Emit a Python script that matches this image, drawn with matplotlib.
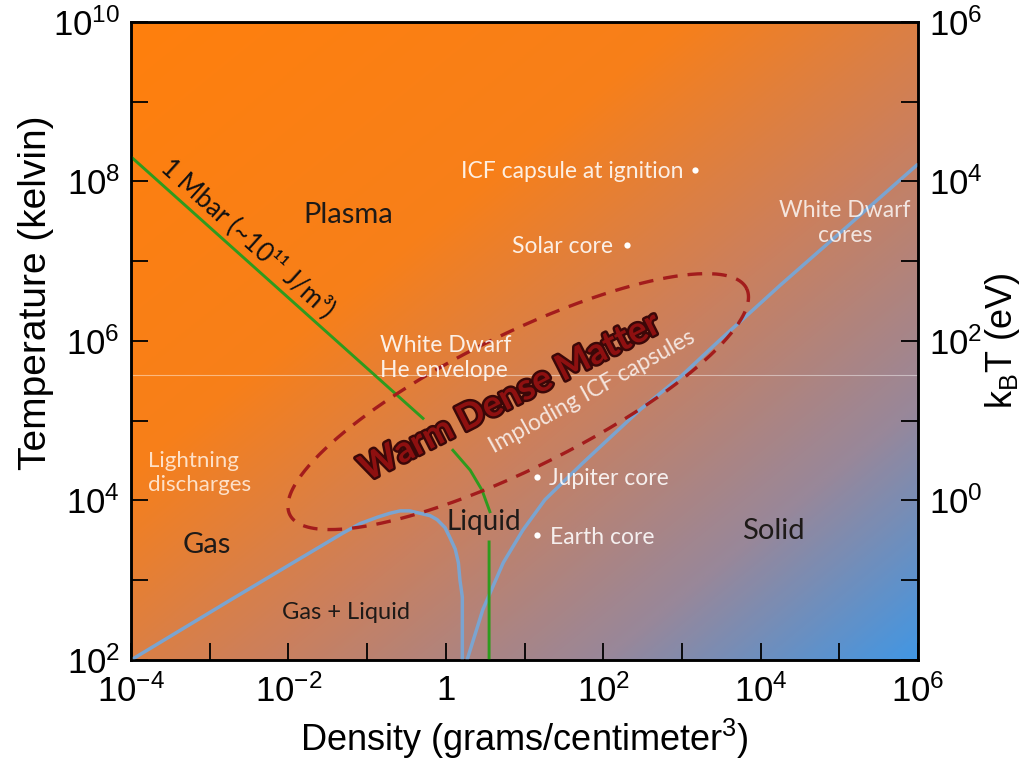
import numpy as np
import matplotlib
matplotlib.use("Agg")
import matplotlib.pyplot as plt
from matplotlib.colors import LinearSegmentedColormap
import matplotlib.patheffects as pe

plt.rcParams['font.family'] = ['Liberation Sans', 'DejaVu Sans']
plt.rcParams['mathtext.fontset'] = 'custom'
plt.rcParams['mathtext.rm'] = 'Liberation Sans'
plt.rcParams['mathtext.it'] = 'Liberation Sans:italic'
plt.rcParams['mathtext.bf'] = 'Liberation Sans:bold'

# ---------------- data (log10 density [g/cm^3], log10 temperature [K]) -------------
binodal_logrho = [-4.00, -2.74, -1.89, -1.31, -1.09, -0.87, -0.71, -0.58, -0.46, -0.33,
                  -0.20, -0.11, -0.01, 0.05, 0.12, 0.16, 0.18, 0.21, 0.21]
binodal_logT = [2.00, 2.75, 3.25, 3.59, 3.71, 3.79, 3.84, 3.87, 3.87, 3.84,
                3.81, 3.76, 3.66, 3.54, 3.39, 3.22, 3.00, 2.79, 2.00]

melt_logrho = [0.27, 0.47, 0.73, 0.98, 1.26, 1.74, 2.47, 2.98, 3.48, 4.25, 5.14, 5.99]
melt_logT = [2.00, 2.63, 3.22, 3.63, 4.01, 4.47, 5.14, 5.55, 6.01, 6.70, 7.47, 8.21]

isobar_logrho = [-4.00, -0.29, np.nan, 0.09, 0.31, 0.46, 0.56, np.nan, 0.55, 0.55]
isobar_logT = [8.31, 5.03, np.nan, 4.63, 4.38, 4.13, 3.86, np.nan, 3.48, 2.00]

# Warm dense matter region (ellipse in log-log space)
wdm_center = (0.92, 5.24)
wdm_semi_major = 3.23
wdm_semi_minor = 0.84
wdm_angle_deg = 26.0

point_names = ["ICF capsule at ignition", "Solar core", "Jupiter core", "Earth core"]
point_logrho = [3.17, 2.30, 1.16, 1.16]
point_logT = [8.14, 7.20, 4.30, 3.57]

x_ticks_log = list(range(-4, 7))
y_ticks_log = list(range(2, 11))
ev_ticks_log = list(range(-2, 7))

# ---------------- figure ----------------
fig = plt.figure(figsize=(10.30, 7.61), dpi=100)
pos = [131/1030, 1 - 660/761, (918-131)/1030, (660-22)/761]

# gradient background
bg = fig.add_axes(pos, zorder=0)
cmap = LinearSegmentedColormap.from_list(
    "bg", [(0.0, (1.00, 0.50, 0.05)), (0.35, (0.97, 0.50, 0.10)),
           (0.58, (0.80, 0.50, 0.36)), (0.80, (0.60, 0.53, 0.60)),
           (1.0, (0.26, 0.59, 0.89))])
u = np.linspace(0, 1, 400)
v = np.linspace(0, 1, 400)
U, V = np.meshgrid(u, v)
T = (U + (1 - V)) / 2
bg.imshow(T, cmap=cmap, extent=[0, 1, 0, 1], origin='lower', aspect='auto',
          interpolation='bilinear', vmin=0, vmax=1)
bg.set_axis_off()

ax = fig.add_axes(pos, zorder=1)
ax.set_facecolor('none')
ax.set_xscale('log')
ax.set_yscale('log')
ax.set_xlim(1e-4, 1e6)
ax.set_ylim(1e2, 1e10)

lr = lambda a: 10.0 ** np.asarray(a, dtype=float)

# faint artifact line
ax.axhline(10 ** 5.574, color='white', lw=0.8, alpha=0.45, zorder=2)

# curves
blue = '#7BA4D0'
ax.plot(lr(binodal_logrho), lr(binodal_logT), color=blue, lw=2.5, zorder=3,
        solid_capstyle='round')
ax.plot(lr(melt_logrho), lr(melt_logT), color=blue, lw=2.5, zorder=3,
        solid_capstyle='round')
ax.plot(lr(isobar_logrho), lr(isobar_logT), color='#2E9B1E', lw=2.1, zorder=4)

# WDM ellipse
t = np.linspace(0, 2 * np.pi, 400)
th = np.deg2rad(wdm_angle_deg)
ex = wdm_center[0] + wdm_semi_major * np.cos(t) * np.cos(th) - wdm_semi_minor * np.sin(t) * np.sin(th)
ey = wdm_center[1] + wdm_semi_major * np.cos(t) * np.sin(th) + wdm_semi_minor * np.sin(t) * np.cos(th)
ax.plot(lr(ex), lr(ey), color='#A31C1C', lw=2.4, dashes=[4.4, 3.0], zorder=4)

# points
ax.plot(lr(point_logrho), lr(point_logT), 'o', color='white', ms=4.5, zorder=5, mec='none')

# ---------------- annotations ----------------
afont = ['Lato', 'DejaVu Sans']
dark = '#1E1A18'
def P(lx, ly):
    return (10 ** lx, 10 ** ly)

ax.text(*P(-1.243, 7.58), "Plasma", fontsize=21, color=dark, family=afont, ha='center', va='center', zorder=6)
ax.text(*P(-3.034, 3.44), "Gas", fontsize=21, color=dark, family=afont, ha='center', va='center', zorder=6)
ax.text(*P(0.485, 3.73), "Liquid", fontsize=20, color=dark, family=afont, ha='center', va='center', zorder=6)
ax.text(*P(4.158, 3.62), "Solid", fontsize=21, color=dark, family=afont, ha='center', va='center', zorder=6)
ax.text(*P(-1.268, 2.60), "Gas + Liquid", fontsize=17, color=dark, family=afont, ha='center', va='center', zorder=6)
ax.text(*P(-2.513, 7.29), "1 Mbar (~10¹¹ J/m³)", fontsize=18.5, color='#111111', family=afont,
        ha='center', va='center', rotation=-42, rotation_mode='anchor', zorder=6)

wcol = (1, 1, 1, 0.88)
ax.text(*P(3.014, 8.13), point_names[0], fontsize=16.5, color=wcol, family=afont, ha='right', va='center', zorder=6)
ax.text(*P(2.125, 7.18), point_names[1], fontsize=16.5, color=wcol, family=afont, ha='right', va='center', zorder=6)
ax.text(*P(1.311, 4.28), point_names[2], fontsize=16.5, color=wcol, family=afont, ha='left', va='center', zorder=6)
ax.text(*P(1.324, 3.54), point_names[3], fontsize=16.5, color=wcol, family=afont, ha='left', va='center', zorder=6)
ax.text(*P(5.072, 7.48), "White Dwarf\ncores", fontsize=16.5, color=(1, 1, 1, 0.8), family=afont,
        ha='center', va='center', linespacing=1.25, zorder=6)
ax.text(*P(-0.836, 5.79), "White Dwarf\nHe envelope", fontsize=16.5, color=wcol, family=afont,
        ha='left', va='center', linespacing=1.25, zorder=6)
ax.text(*P(-3.784, 4.345), "Lightning\ndischarges", fontsize=16, color=(1.0, 0.90, 0.82, 0.95), family=afont,
        ha='left', va='center', linespacing=1.25, zorder=6)
ax.text(*P(1.858, 5.36), "Imploding ICF capsules", fontsize=16.5, color=(1, 1, 1, 0.8), family=afont,
        ha='center', va='center', rotation=29, rotation_mode='anchor', zorder=6)
ax.text(*P(0.816, 5.30), "Warm Dense Matter", fontsize=26, fontweight='bold', color='#8E1010', family=afont,
        ha='center', va='center', rotation=27, rotation_mode='anchor', zorder=6,
        path_effects=[pe.withStroke(linewidth=3.5, foreground='#3A0808')])

# ---------------- axes styling ----------------
def fmt_x(e):
    if e % 2:
        return ""
    if e == 0:
        return "1"
    return r"$\mathregular{10^{%d}}$" % e

def fmt_y(e):
    if e % 2:
        return ""
    return r"$\mathregular{10^{%d}}$" % e

ax.set_xticks(lr(x_ticks_log))
ax.set_xticklabels([fmt_x(e) for e in x_ticks_log])
ax.set_yticks(lr(y_ticks_log))
ax.set_yticklabels([fmt_y(e) for e in y_ticks_log])
ax.minorticks_off()
ax.tick_params(which='major', direction='in', length=12, width=1.3, labelsize=25, pad=8,
               top=False, right=False)
ax.tick_params(axis='x', pad=10)
for s in ax.spines.values():
    s.set_linewidth(1.8)

ax.set_xlabel(r"Density (grams/centimeter$\mathregular{^3}$)", fontsize=26, labelpad=6)
ax.set_ylabel("Temperature (kelvin)", fontsize=28)
ax.yaxis.set_label_coords(-0.098, 0.575)

ax2 = ax.twinx()
ax2.set_yscale('log')
ax2.set_ylim(1e-2, 1e6)
ax2.set_yticks(lr(ev_ticks_log))
ax2.set_yticklabels([fmt_y(e) if e > -2 else "" for e in ev_ticks_log])
ax2.minorticks_off()
ax2.tick_params(which='major', direction='in', length=12, width=1.3, labelsize=25, pad=8)
ax2.set_ylabel(r"$\mathregular{k_BT}$ (eV)", fontsize=26)
ax2.yaxis.set_label_coords(1.083, 0.5)
for s in ax2.spines.values():
    s.set_linewidth(1.8)

fig.savefig("out.png", dpi=100)
